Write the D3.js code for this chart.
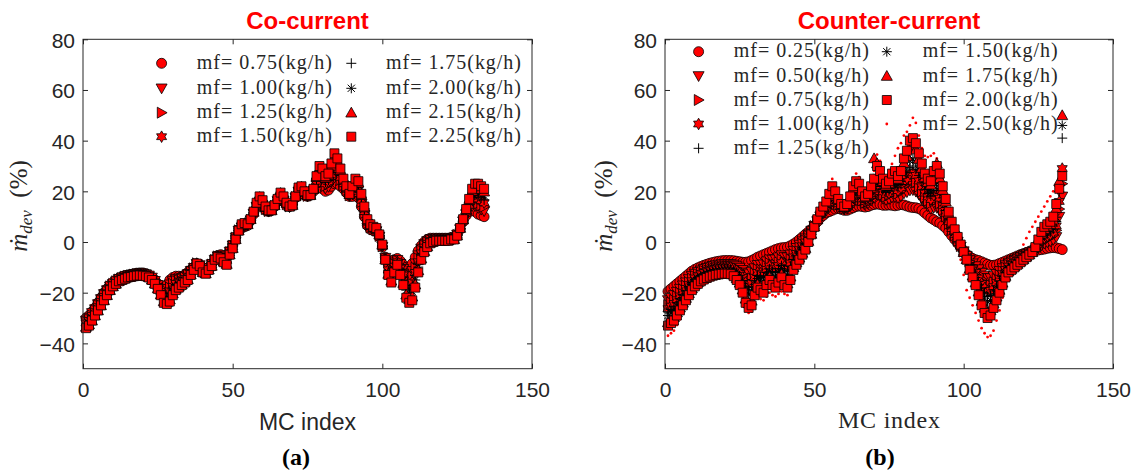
<!DOCTYPE html>
<html><head><meta charset="utf-8">
<script src="https://cdn.jsdelivr.net/npm/d3@7"></script>
<style>body{margin:0;background:#fff}svg{display:block}</style>
</head><body>
<svg id="c" width="1132" height="474"></svg>
<script>
// ---------- data ----------
const xTicks = [0, 50, 100, 150];
const yTicks = [-40, -20, 0, 20, 40, 60, 80];

const coLabels = ["mf= 0.75(kg/h)","mf= 1.00(kg/h)","mf= 1.25(kg/h)","mf= 1.50(kg/h)","mf= 1.75(kg/h)","mf= 2.00(kg/h)","mf= 2.15(kg/h)","mf= 2.25(kg/h)"];
const coMarkers = ["circle","down","right","hexagram","plus","asterisk","up","square"];

const co075 = [-30,-29,-27.5,-26,-24,-22,-20,-18.5,-17,-16,
-15,-14.3,-13.8,-13.3,-13,-12.8,-12.5,-12.3,-12.2,-12.2,
-12.5,-13,-13.8,-15,-16.5,-18,-18.5,-17,-15,-14,
-13.5,-13.5,-13.5,-13,-12,-11,-10,-8.5,-9,-10.5,
-11,-10,-8.5,-7,-5.5,-5,-5.5,-5.5,-3.5,-1,
2,4.5,5.5,6,6.5,8.5,11,13.5,15,14,
12.5,12,12.5,14,16,17,16,14.5,14,15,
17.5,19.5,19.5,18.5,18,18.5,20,22,22,21,
20,20.5,22,23,23,22,21,19.5,18,18,
18.5,17.5,14,10,6.5,5,4.5,4,2,-2,
-6,-9,-9,-7,-6.5,-7.5,-9,-10,-10,-8.5,
-6,-3.5,-1.5,0,1,1.5,1.5,1.5,1.5,1.5,
1.5,1.5,1.5,2,3,5,8,10.5,12,12.5,
12,11,10.5,10];
const co100 = [-31,-30,-28,-26.5,-24.5,-22.5,-20.5,-19,-17.5,-16.5,
-15.5,-14.5,-14,-13.5,-13.2,-13,-12.7,-12.5,-12.4,-12.4,
-12.7,-13.2,-14,-15.3,-16.9,-18.6,-19.6,-18.5,-16.7,-15.4,
-14.6,-14.4,-14.2,-13.6,-12.6,-11.4,-10.2,-8.6,-9.1,-10.8,
-11.3,-10.2,-8.7,-7,-5.6,-5.3,-6,-6.2,-3.8,-1.3,
1.8,4.5,5.8,6.3,6.6,8.6,11.2,13.9,15.6,14.5,
12.8,12.1,12.5,14.1,16.2,17.5,16.4,14.7,14,14.9,
17.6,19.9,20,18.8,18.1,18.5,20.2,22.8,23.6,22.6,
21.2,21.8,23.8,25.4,25,23.4,21.8,20,18.2,18.8,
19.8,18.8,15,10.8,7,5.4,4.8,4.3,2.2,-1.8,
-6.2,-9.8,-10.4,-8,-7,-8.6,-10.6,-12.4,-12.8,-11.4,
-8.4,-5.2,-2.6,-0.8,0.4,1.1,1.2,1.3,1.3,1.3,
1.3,1.3,1.4,1.8,2.9,5.1,8.2,11,13,14.2,
14.2,13.4,12.8,12.2];
const co125 = [-31.5,-30.5,-29,-27,-25,-23,-21,-19.5,-17.5,-16.5,
-15.5,-14.8,-14.2,-13.7,-13.4,-13.2,-12.9,-12.7,-12.6,-12.6,
-12.9,-13.4,-14.2,-15.5,-17.2,-19,-20.4,-19.6,-18,-16.5,
-15.4,-15.1,-14.7,-14,-13,-11.7,-10.4,-8.4,-9.2,-11,
-11.5,-10.4,-8.9,-7.1,-5.7,-5.5,-6.4,-6.7,-4,-1.5,
1.7,4.6,6,6.5,6.7,8.7,11.4,14.2,16,14.9,
13,12.2,12.6,14.2,16.4,17.9,16.7,14.9,14.1,14.8,
17.7,20.2,20.4,19,18.2,18.6,20.4,23.4,24.8,23.8,
22.1,22.8,25.2,27.2,26.5,24.5,22.4,20.4,18.4,19.4,
20.8,19.8,15.8,11.4,7.4,5.7,5,4.5,2.4,-1.7,
-6.4,-10.4,-11.5,-8.8,-7.4,-9.4,-11.8,-14.2,-14.9,-13.6,
-10.2,-6.5,-3.4,-1.4,-0.1,0.8,1,1.2,1.2,1.2,
1.2,1.2,1.3,1.7,2.8,5.2,8.4,11.4,13.8,15.5,
15.9,15.2,14.5,13.9];
const co150 = [-32,-31,-29,-27.5,-25.5,-23.5,-21.5,-20,-18,-17,
-16,-15,-14.4,-13.9,-13.5,-13.3,-13,-12.8,-12.7,-12.7,
-13,-13.5,-14.4,-15.8,-17.5,-19.5,-21.2,-20.8,-19.3,-17.5,
-16.3,-15.8,-15.3,-14.5,-13.5,-12,-10.5,-8.5,-9.3,-11.3,
-11.8,-10.5,-9,-7,-5.8,-5.8,-6.8,-7.3,-4.3,-1.8,
1.5,4.4,6.3,6.8,6.8,8.8,11.5,14.5,16.5,15.3,
13.3,12.3,12.4,14.3,16.5,18.3,17,15,13.9,14.8,
17.8,20.5,20.8,19.3,18.3,18.4,20.5,24,26,25,
23,23.8,26.5,29,28,25.5,23,20.8,18.5,20,
21.8,20.8,16.5,12,7.8,6,5.3,4.8,2.5,-1.5,
-6.5,-11,-12.5,-9.5,-7.8,-10.3,-13,-16,-17,-15.8,
-12,-7.8,-4.3,-2,-0.5,0.5,0.8,1,1,1,
1,1,1.3,1.5,2.8,5.3,8.5,11.8,14.5,16.8,
17.5,17,16.3,15.5];
const co175 = [-32.5,-31.5,-30,-28,-26,-24,-22,-20,-18,-17,
-16,-15,-14.5,-14,-13.6,-13.4,-13.1,-12.9,-12.8,-12.9,
-13.1,-13.6,-14.5,-15.9,-17.7,-19.8,-21.8,-21.5,-20.1,-18.2,
-16.8,-16.2,-15.6,-14.8,-13.8,-12.2,-10.6,-8.7,-9.3,-11.4,
-11.9,-10.6,-9.1,-6.9,-5.8,-5.9,-7,-7.6,-4.4,-1.9,
1.4,4.5,6.4,6.9,6.8,8.8,11.6,14.7,16.8,15.5,
13.4,12.3,12.5,14.3,16.6,18.5,17.2,15.1,14,14.7,
17.8,20.7,21,19.4,18.3,18.5,20.6,24.4,26.8,25.8,
23.6,24.4,27.4,30.2,29,26.2,23.4,21,18.6,20.4,
22.4,21.4,17,12.4,8,6.2,5.4,4.9,2.6,-1.4,
-6.6,-11.4,-13.2,-10,-8,-10.8,-13.8,-17.2,-18.4,-17.2,
-13.2,-8.6,-4.8,-2.4,-0.8,0.3,0.6,0.9,0.9,0.9,
0.9,0.9,1.2,1.4,2.7,5.3,8.6,12,15,17.6,
18.6,18.2,17.4,16.6];
const co200 = [-33,-32,-30,-28.5,-26.5,-24.5,-22.5,-20.5,-18.5,-17,
-16,-15.2,-14.7,-14.2,-13.8,-13.5,-13.2,-13,-12.9,-13,
-13.2,-13.8,-14.7,-16.1,-18,-20.2,-22.6,-22.6,-21.4,-19.3,
-17.6,-16.9,-16.1,-15.3,-14.3,-12.5,-10.8,-8.5,-9.4,-11.6,
-12.1,-10.8,-9.3,-7,-5.9,-6.1,-7.4,-8.1,-4.6,-2.1,
1.3,4.6,6.6,7.1,6.9,8.9,11.8,15,17.3,15.9,
13.6,12.4,12.6,14.4,16.8,18.9,17.5,15.3,14.1,14.6,
17.9,21,21.4,19.6,18.4,18.6,20.8,25,28,27,
24.5,25.4,28.8,32,30.5,27.3,24,21.4,18.8,21,
23.4,22.4,17.8,13,8.4,6.5,5.6,5.1,2.8,-1.3,
-6.8,-12,-14.3,-10.8,-8.4,-11.6,-15,-19,-20.5,-19.4,
-15,-9.9,-5.6,-3,-1.3,0,0.4,0.8,0.8,0.8,
0.8,0.8,1.1,1.3,2.6,5.4,8.8,12.4,15.8,18.9,
20.3,20,19.1,18.3];
const co215 = [-33.5,-32.5,-31,-29,-27,-25,-23,-21,-19,-17.5,
-16.5,-15.4,-14.9,-14.4,-13.9,-13.7,-13.4,-13.2,-13.1,-13.2,
-13.4,-13.9,-14.9,-16.4,-18.3,-20.7,-23.4,-23.8,-22.7,-20.3,
-18.5,-17.6,-16.7,-15.7,-14.7,-12.8,-10.9,-8.6,-9.5,-11.9,
-12.4,-10.9,-9.4,-7,-6,-6.4,-7.8,-8.7,-4.9,-2.4,
1.1,4.5,6.9,7.4,7,9,11.9,15.3,17.7,16.3,
13.9,12.5,12.5,14.5,16.9,19.3,17.8,15.4,14,14.6,
18,21.3,21.8,19.9,18.5,18.5,20.9,25.6,29.2,28.2,
25.4,26.4,30.1,33.8,32,28.3,24.6,21.8,18.9,21.6,
24.4,23.4,18.5,13.6,8.8,6.8,5.9,5.4,2.9,-1.1,
-6.9,-12.6,-15.3,-11.5,-8.8,-12.5,-16.2,-20.8,-22.6,-21.6,
-16.8,-11.2,-6.5,-3.6,-1.7,-0.3,0.2,0.6,0.6,0.6,
0.6,0.6,1.1,1.1,2.6,5.5,8.9,12.8,16.5,20.2,
21.9,21.8,20.9,19.9];
const co225 = [-34,-33,-31,-29,-27,-25,-23,-21,-19,-17.5,
-16.5,-15.5,-15,-14.5,-14,-13.8,-13.5,-13.3,-13.2,-13.3,
-13.5,-14,-15,-16.5,-18.5,-21,-24,-24.5,-23.5,-21,
-19,-18,-17,-16,-15,-13,-11,-8.5,-9.5,-12,
-12.5,-11,-9.5,-7,-6,-6.5,-8,-9,-5,-2.5,
1,4.5,7,7.5,7,9,12,15.5,18,16.5,
14,12.5,12.5,14.5,17,19.5,18,15.5,14,14.5,
18,21.5,22,20,18.5,18.5,21,26,30,29,
26,27,31,35,33,29,25,22,19,22,
25,24,19,14,9,7,6,5.5,3,-1,
-7,-13,-16,-12,-9,-13,-17,-22,-24,-23,
-18,-12,-7,-4,-2,-0.5,0,0.5,0.5,0.5,
0.5,0.5,1,1,2.5,5.5,9,13,17,21,
23,23,22,21];

const ccLabels = ["mf= 0.25(kg/h)","mf= 0.50(kg/h)","mf= 0.75(kg/h)","mf= 1.00(kg/h)","mf= 1.25(kg/h)","mf= 1.50(kg/h)","mf= 1.75(kg/h)","mf= 2.00(kg/h)","mf= 2.50(kg/h)"];
const ccMarkers = ["circle","down","right","hexagram","plus","asterisk","up","square","dot"];

const cc025 = [-19.5,-18.5,-17.5,-16.5,-15.5,-14.5,-13.5,-12.5,-11.5,-10.8,
-10.2,-9.7,-9.2,-8.8,-8.4,-8.1,-7.8,-7.6,-7.4,-7.3,
-7.3,-7.3,-7.4,-7.6,-7.8,-8,-8,-7.8,-7.3,-6.7,
-6,-5.5,-5,-4.5,-4,-3.5,-3,-2.6,-2.3,-2.2,
-2,-1.5,-0.8,0,1,2,3,4,5,6.5,
8,9.5,10.5,11.5,12,12.5,13,13.2,13,12.5,
12.5,13,13.5,14,14.2,14,13.8,14,14.5,14.8,
15,14.8,14.5,14.5,14.6,14.5,14.3,14.5,14.8,14.6,
14.2,13.8,13.6,13.5,13.2,12.5,11.5,10.5,9.5,8.8,
8,7.5,6.5,5.5,4,2.5,1,-0.5,-2,-3.5,
-4.8,-5.8,-6.5,-7,-7.3,-7.8,-8.3,-8.8,-9.2,-9.2,
-9,-8.5,-8,-7.5,-7,-6.5,-6,-5.5,-5,-4.6,
-4.2,-3.9,-3.6,-3.4,-3.2,-3,-2.8,-2.5,-2.3,-2.2,
-2.3,-2.6,-3];
const cc050 = [-22.9,-21.9,-20.9,-19.6,-18.4,-17.1,-15.9,-14.6,-13.4,-12.5,
-11.8,-11.2,-10.6,-10.2,-9.7,-9.4,-9.1,-8.9,-8.7,-8.6,
-8.6,-8.7,-8.9,-9.5,-10.1,-11,-12,-12.4,-11.7,-10.3,
-9,-8.9,-8.8,-7.6,-6.8,-6.9,-6.8,-6,-5.2,-5.9,
-6,-4.9,-3.4,-2.3,-1,0.3,1.5,3,4.5,6.4,
8.3,10.1,11.4,12.6,13.8,14.9,14.8,14.2,13.5,12.9,
13.1,14.3,15.6,16.5,16.4,15.5,14.9,15.3,16.4,17.4,
18.8,18.1,17.1,16.6,17,17.6,17.7,17.4,18.1,19.2,
19.7,20.4,20.5,19.9,18.7,17.1,15.4,14.1,13.1,13.6,
13.5,12.4,10.4,8.4,6,3.9,2,0.1,-1.8,-3.6,
-5.4,-7.1,-8.4,-9.5,-10.7,-12.1,-13.2,-14.1,-14.2,-13.4,
-12.5,-11.4,-10.3,-9.1,-8.3,-7.6,-7,-6.4,-5.8,-5.2,
-4.7,-4.2,-3.7,-3.1,-2.2,-1.3,-0.6,-0.1,0.3,0.9,
2,10,18];
const cc075 = [-24.9,-23.9,-22.9,-21.5,-20.1,-18.7,-17.3,-15.9,-14.5,-13.5,
-12.7,-12,-11.4,-11,-10.5,-10.2,-9.9,-9.7,-9.5,-9.4,
-9.4,-9.5,-9.8,-10.6,-11.5,-12.8,-14.4,-15.1,-14.4,-12.4,
-10.8,-10.9,-11,-9.5,-8.4,-8.9,-9,-8,-7,-8.1,
-8.4,-6.9,-4.9,-3.6,-2.2,-0.8,0.6,2.4,4.2,6.3,
8.4,10.5,11.9,13.3,14.8,16.3,15.8,14.7,13.8,13.1,
13.5,15,16.9,18,17.7,16.4,15.5,16,17.5,18.9,
21,20.1,18.7,17.9,18.4,19.5,19.8,19.1,20.1,22,
22.9,24.3,24.6,23.7,21.9,19.9,17.7,16.3,15.3,16.5,
16.8,15.3,12.7,10.1,7.2,4.7,2.6,0.5,-1.6,-3.7,
-5.7,-7.9,-9.5,-11,-12.8,-14.7,-16.2,-17.3,-17.1,-15.9,
-14.6,-13.1,-11.6,-10.1,-9,-8.3,-7.6,-6.9,-6.2,-5.6,
-4.9,-4.3,-3.8,-2.8,-1.5,-0.2,0.7,1.3,1.8,2.7,
4.6,13,23];
const cc100 = [-26.3,-25.3,-24.3,-22.8,-21.3,-19.8,-18.3,-16.8,-15.3,-14.2,
-13.4,-12.6,-12,-11.5,-11.1,-10.7,-10.4,-10.2,-10,-9.9,
-9.9,-10,-10.5,-11.3,-12.4,-14,-16,-16.9,-16.2,-13.9,
-12,-12.3,-12.5,-10.8,-9.5,-10.3,-10.5,-9.3,-8.2,-9.6,
-10,-8.3,-5.9,-4.5,-3,-1.5,0,2,4,6.3,
8.5,10.8,12.3,13.8,15.5,17.3,16.5,15.1,14,13.3,
13.8,15.5,17.8,19,18.6,17,15.9,16.5,18.3,19.9,
22.5,21.4,19.8,18.8,19.3,20.8,21.2,20.3,21.4,23.8,
25.1,26.9,27.3,26.3,24.1,21.8,19.3,17.8,16.8,18.4,
19,17.3,14.3,11.3,8,5.3,3,0.8,-1.5,-3.8,
-5.9,-8.4,-10.3,-12,-14.2,-16.4,-18.2,-19.4,-19.1,-17.6,
-16,-14.3,-12.5,-10.8,-9.5,-8.8,-8,-7.3,-6.5,-5.8,
-5.1,-4.5,-3.8,-2.7,-1.1,0.5,1.6,2.3,2.9,3.9,
6.4,16,29];
const cc125 = [-27.6,-26.6,-25.6,-24,-22.4,-20.8,-19.2,-17.6,-16,-14.8,
-14,-13.2,-12.6,-12,-11.6,-11.2,-10.9,-10.7,-10.5,-10.4,
-10.4,-10.5,-11.1,-12,-13.3,-15.2,-17.6,-18.7,-17.9,-15.3,
-13.2,-13.6,-14,-12,-10.6,-11.6,-12,-10.6,-9.3,-11.1,
-11.6,-9.6,-6.9,-5.4,-3.8,-2.2,-0.6,1.6,3.8,6.2,
8.6,11,12.6,14.2,16.2,18.2,17.2,15.5,14.2,13.4,
14,16,18.6,20,19.5,17.6,16.3,17,19,20.9,
24,22.7,20.8,19.6,20.2,22,22.5,21.4,22.7,25.6,
27.3,29.5,30,28.8,26.3,23.6,20.8,19.2,18.2,20.3,
21.2,19.2,15.8,12.4,8.8,5.8,3.4,1,-1.4,-3.8,
-6.1,-8.9,-11,-13,-15.5,-18.1,-20.1,-21.5,-21.1,-19.3,
-17.4,-15.4,-13.4,-11.4,-10,-9.2,-8.4,-7.6,-6.8,-6,
-5.3,-4.6,-3.8,-2.6,-0.7,1.2,2.5,3.2,3.9,5.1,
8.1,20,41];
const cc150 = [-29,-28,-27,-25.3,-23.6,-21.9,-20.2,-18.5,-16.8,-15.5,
-14.6,-13.8,-13.1,-12.6,-12.1,-11.7,-11.4,-11.2,-11,-10.9,
-10.9,-11.1,-11.7,-12.8,-14.2,-16.4,-19.2,-20.5,-19.7,-16.7,
-14.4,-15,-15.5,-13.3,-11.7,-13,-13.5,-12,-10.5,-12.6,
-13.2,-11,-7.9,-6.3,-4.6,-2.9,-1.2,1.2,3.6,6.2,
8.7,11.3,13,14.7,16.9,19.2,17.9,15.9,14.4,13.6,
14.3,16.5,19.5,21,20.4,18.2,16.7,17.5,19.8,21.9,
25.5,24,21.9,20.5,21.2,23.3,23.9,22.6,24,27.5,
29.5,32.1,32.8,31.4,28.5,25.5,22.4,20.7,19.7,22.2,
23.4,21.2,17.4,13.6,9.6,6.4,3.8,1.3,-1.3,-3.9,
-6.3,-9.4,-11.8,-14,-16.9,-19.8,-22.1,-23.6,-23.1,-21,
-18.8,-16.6,-14.3,-12.1,-10.5,-9.7,-8.8,-8,-7.1,-6.3,
-5.5,-4.7,-3.9,-2.4,-0.3,1.9,3.4,4.2,4.9,6.3,
9.8,22,46];
const cc175 = [-31.7,-30.7,-29.7,-27.8,-25.9,-24,-22.1,-20.2,-18.3,-16.8,
-15.9,-14.9,-14.2,-13.7,-13.2,-12.8,-12.5,-12.3,-12.1,-12,
-12,-12.2,-12.9,-14.3,-16.1,-18.8,-22.4,-24.2,-23.2,-19.6,
-16.8,-17.7,-18.5,-15.8,-13.9,-15.7,-16.5,-14.7,-12.8,-15.5,
-16.4,-13.7,-10,-8.1,-6.2,-4.3,-2.4,0.4,3.2,6.1,
8.9,11.8,13.7,15.6,18.3,21.1,19.3,16.6,14.8,13.9,
14.8,17.5,21.2,23,22.1,19.4,17.6,18.5,21.3,33,
31,26.7,24,22.2,23.1,25.8,26.6,24.9,26.7,31.2,
33.8,37.4,38.3,36.5,32.8,29.2,25.5,23.6,22.6,26.1,
31,25.1,20.5,15.9,11.2,7.5,4.6,1.8,-1.1,-4,
-6.8,-10.5,-13.3,-16,-19.6,-23.3,-26,-27.9,-27,-24.3,
-21.6,-18.9,-16.1,-13.4,-11.5,-10.6,-9.6,-8.7,-7.7,-6.8,
-5.8,-4.9,-4,-2.1,0.6,3.3,5.1,6.1,7,8.8,
13.3,24,50];
const cc200 = [-33,-32,-31,-29,-27,-25,-23,-21,-19,-17.5,
-16.5,-15.5,-14.8,-14.2,-13.7,-13.3,-13,-12.8,-12.6,-12.5,
-12.5,-12.7,-13.5,-15,-17,-20,-24,-26,-25,-21,
-18,-19,-20,-17,-15,-17,-18,-16,-14,-17,
-18,-15,-11,-9,-7,-5,-3,0,3,6,
9,12,14,16,19,22,20,17,15,14,
15,18,22,24,23,20,18,19,22,25,
30,28,25,23,24,27,28,26,28,33,
36,40,41,39,35,31,27,25,24,28,
30,27,22,17,12,8,5,2,-1,-4,
-7,-11,-14,-17,-21,-25,-28,-30,-29,-26,
-23,-20,-17,-14,-12,-11,-10,-9,-8,-7,
-6,-5,-4,-2,1,4,6,7,8,10,
15,21,26];
const cc250 = [-37,-36,-35,-32.8,-30.5,-28.2,-25.9,-23.5,-21.3,-19.5,
-17.5,-16.5,-15.5,-14.8,-14.2,-13.8,-13.5,-13.2,-13,-12.9,
-12.9,-13.2,-14,-15,-18,-22,-26,-28,-27.5,-25,
-22,-22.5,-23,-21.5,-20,-21,-21.5,-20.5,-19.5,-20.5,
-21,-19,-14,-11.5,-9.5,-7,-5,-1.2,2.4,5.9,
9.3,12.8,15.1,17.4,21.1,24.9,22.1,18.1,15.6,14.5,
15.8,19.5,24.6,27,25.6,21.8,19.3,20.5,24.3,28.1,
34.5,32,28.2,25.6,26.8,30.8,34,37,39,42,
43.5,46,49,47,42,37,34,33.5,34,35,
33,30,25,20,12,8,3,-2,-7,-13,
-19,-22,-25,-28,-31,-34,-36,-37.5,-37,-35,
-31,-27,-22,-18,-14,-11,-8,-6,-3.5,-1,
1.5,4,6,8,10,12,14,16,18,20,
22,25,28];

// ---------- drawing ----------
const svg = d3.select("#c");
const AX = "#262626";
const SANS = "'Liberation Sans', Arial, sans-serif";
const SERIF = "'Liberation Serif', 'Times New Roman', serif";

function hexagram(R) {
  const r = R / Math.sqrt(3), p = d3.path();
  for (let k = 0; k < 12; k++) {
    const a = -Math.PI / 2 + k * Math.PI / 6, rr = k % 2 ? r : R;
    const px = rr * Math.cos(a), py = rr * Math.sin(a);
    k ? p.lineTo(px, py) : p.moveTo(px, py);
  }
  p.closePath();
  return p.toString();
}
const shapes = {
  circle: "M5,0A5,5 0 1,1 -5,0A5,5 0 1,1 5,0Z",
  square: "M-4.5,-4.5H4.5V4.5H-4.5Z",
  down: "M-5.5,-4.3L5.5,-4.3L0,5.5Z",
  up: "M-5.5,4.3L5.5,4.3L0,-5.5Z",
  right: "M-4.3,-5.5L5.5,0L-4.3,5.5Z",
  hexagram: hexagram(5.8),
  plus: "M-5,0H5M0,-5V5",
  asterisk: "M-5,0H5M0,-5V5M-3.6,-3.6L3.6,3.6M-3.6,3.6L3.6,-3.6",
  dot: "M1.4,0A1.4,1.4 0 1,1 -1.4,0A1.4,1.4 0 1,1 1.4,0Z"
};
function styleMarker(sel, type) {
  if (type === "plus" || type === "asterisk") {
    sel.attr("fill", "none").attr("stroke", "#000").attr("stroke-width", 1);
  } else if (type === "dot") {
    sel.attr("fill", "#ff0000").attr("stroke", "none");
  } else {
    sel.attr("fill", "#ff0000").attr("stroke", "#000").attr("stroke-width", 0.8);
  }
}

function panel(o) {
  const x = d3.scaleLinear().domain([0, 150]).range([o.left, o.right]);
  const y = d3.scaleLinear().domain([-50, 80]).range([368.7, 39.3]);
  const g = svg.append("g");

  // series (drawing order given by o.order)
  o.order.forEach(si => {
    const vals = o.series[si], type = o.markers[si];
    const sg = g.append("g");
    sg.selectAll("path").data(vals.map((v, i) => [i + 1, v]).filter(d => d[1] >= -50 && d[1] <= 80))
      .join("path")
      .attr("d", shapes[type])
      .attr("transform", d => `translate(${x(d[0])},${y(d[1])})`)
      .call(styleMarker, type);
  });

  // axes (ticks inward)
  const fmt = d3.format("d");
  const axB = g.append("g").attr("transform", `translate(0,${y(-50)})`)
    .call(d3.axisBottom(x).tickValues(xTicks).tickSize(-5).tickPadding(13).tickFormat(fmt));
  const axT = g.append("g").attr("transform", `translate(0,${y(80)})`)
    .call(d3.axisTop(x).tickValues(xTicks).tickSize(-5).tickFormat(""));
  const axL = g.append("g").attr("transform", `translate(${x(0)},0)`)
    .call(d3.axisLeft(y).tickValues(yTicks).tickSize(-5).tickPadding(8).tickFormat(fmt));
  const axR = g.append("g").attr("transform", `translate(${x(150)},0)`)
    .call(d3.axisRight(y).tickValues(yTicks).tickSize(-5).tickFormat(""));
  [axB, axT, axL, axR].forEach(a => {
    a.select(".domain").remove();
    a.selectAll("line").attr("stroke", AX);
    a.selectAll("text").attr("fill", AX).style("font-family", SANS).style("font-size", "21px");
  });
  axL.selectAll("text").attr("dy", "0.38em");
  g.append("rect").attr("x", x(0)).attr("y", y(80)).attr("width", x(150) - x(0)).attr("height", y(-50) - y(80))
    .attr("fill", "none").attr("stroke", AX).attr("stroke-width", 1);

  // title
  g.append("text").attr("x", (x(0) + x(150)) / 2).attr("y", 29).attr("text-anchor", "middle")
    .style("font-family", SANS).style("font-weight", "bold").style("font-size", "24px")
    .attr("fill", "#ff0000").text(o.title);

  // x label
  const xl = g.append("text").attr("x", (x(0) + x(150)) / 2).attr("y", o.xlabY).attr("text-anchor", "middle")
    .attr("fill", AX).style("font-family", o.xlabFont).style("font-size", o.xlabSize + "px").text("MC index");
  if (o.xlabLen) xl.attr("textLength", o.xlabLen).attr("lengthAdjust", "spacing");

  // y label
  const yl = g.append("text").attr("transform", `translate(${o.ylabX},206) rotate(-90)`)
    .attr("text-anchor", "middle").attr("fill", AX).style("font-family", SERIF).style("font-size", "25px");
  yl.append("tspan").style("font-style", "italic").text("ṁ");
  yl.append("tspan").style("font-style", "italic").style("font-size", "17px").attr("dy", 5).text("dev");
  yl.append("tspan").attr("dy", -5).text("\u2002(%)");

  // panel letter
  g.append("text").attr("x", o.letterX).attr("y", 465).attr("text-anchor", "middle")
    .style("font-family", SERIF).style("font-weight", "bold").style("font-size", "24px")
    .attr("fill", "#000").text(o.letter);

  // legend (no box)
  const lg = g.append("g");
  o.labels.forEach((lab, i) => {
    const col = i < o.col1 ? 0 : 1, row = col ? i - o.col1 : i;
    const c = o.legCols[col], ry = o.legRows[row];
    lg.append("path").attr("d", shapes[o.markers[i]]).attr("transform", `translate(${c[0]},${ry})`)
      .call(styleMarker, o.markers[i]);
    lg.append("text").attr("x", c[1]).attr("y", ry + 5.5).attr("fill", AX)
      .style("font-family", SERIF).style("font-size", "20px")
      .attr("textLength", 135).attr("lengthAdjust", "spacing").text(lab);
  });
}

panel({
  left: 83, right: 532, title: "Co-current", letter: "(a)", letterX: 296,
  xlabFont: SANS, xlabSize: 23, xlabY: 430, ylabX: 27,
  series: [co075, co100, co125, co150, co175, co200, co215, co225],
  order: [0, 1, 2, 3, 4, 5, 6, 7],
  markers: coMarkers, labels: coLabels, col1: 4,
  legCols: [[161.6, 196.8], [351.3, 386]], legRows: [63.3, 88.3, 112.7, 136.7]
});
panel({
  left: 665, right: 1113, title: "Counter-current", letter: "(b)", letterX: 880,
  xlabFont: SERIF, xlabSize: 24, xlabY: 428, xlabLen: 102, ylabX: 612,
  series: [cc025, cc050, cc075, cc100, cc125, cc150, cc175, cc200, cc250],
  order: [8, 0, 1, 2, 3, 4, 5, 6, 7],
  markers: ccMarkers, labels: ccLabels, col1: 5,
  legCols: [[698.6, 733.8], [886.8, 922.7]], legRows: [51.7, 76, 100, 124, 148.3]
});
</script>
</body></html>
